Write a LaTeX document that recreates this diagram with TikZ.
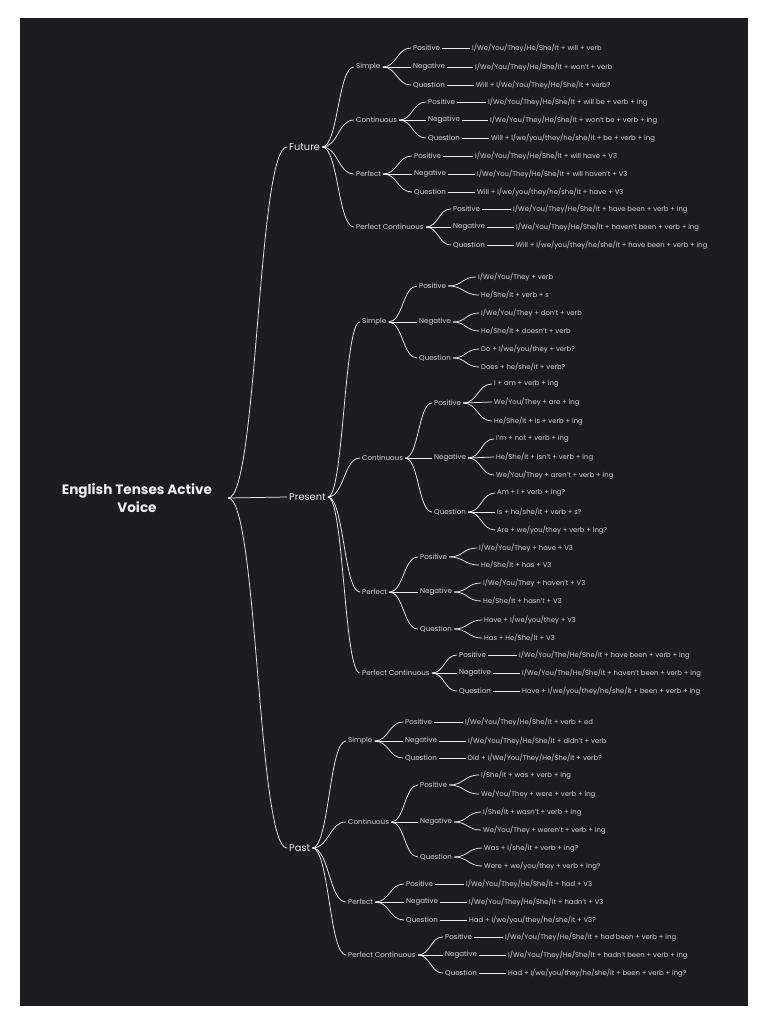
\documentclass[tikz,border=0pt]{standalone}
\usepackage{fontspec}
\setmainfont{Poppins}
\usetikzlibrary{calc}

\definecolor{boardbg}{HTML}{1D1C21}
\definecolor{inkwhite}{HTML}{EDEDED}
\definecolor{inkgrey}{HTML}{D4D4D4}

\tikzset{
  title/.style = {font=\bfseries\fontsize{13.6}{18}\selectfont, text=inkwhite,
    align=center, minimum width=182pt, inner sep=0pt},
  tense/.style = {anchor=west, inner sep=2pt, font=\fontsize{9.8}{11}\selectfont, text=inkwhite},
  form/.style = {anchor=west, inner sep=2pt, font=\fontsize{7.1}{8}\selectfont, text=inkgrey},
  kind/.style = {form},
  leaf/.style = {form, font=\fontsize{6.85}{8}\selectfont},
  link/.style = {draw=inkwhite, line width=.75pt,
    to path={.. controls ($(\tikztostart)!.5!(\tikztotarget|-\tikztostart)$)
      and ($(\tikztotarget)!.5!(\tikztostart|-\tikztotarget)$) .. (\tikztotarget)}}
}

\begin{document}
\begin{tikzpicture}[x=1pt, y=-1pt]

	\fill[white] (0,0) rectangle (768,1024);
	\fill[boardbg] (20,18) rectangle (748,1006);

	\node[title] (root) at (137,498) {English Tenses Active\\Voice};

	% tenses
	\node[tense] (fut) at (287,147) {Future};
	\node[tense] (pre) at (287,497) {Present};
	\node[tense] (pas) at (287,848) {Past};

	% future
	\node[form] (futS) at (354,67) {Simple};
	\node[kind] (futSpos) at (411,48) {Positive};
	\node[kind] (futSneg) at (411,67) {Negative};
	\node[kind] (futSque) at (411,85) {Question};
	\node[leaf] (futSpos-1) at (470,48) {I/We/You/They/He/She/It + will + verb};
	\node[leaf] (futSneg-1) at (473,67) {I/We/You/They/He/She/It + won't + verb};
	\node[leaf] (futSque-1) at (474,85) {Will + I/We/You/They/He/She/It + verb?};

	\node[form] (futC) at (354,120) {Continuous};
	\node[kind] (futCpos) at (426,102) {Positive};
	\node[kind] (futCneg) at (426,120) {Negative};
	\node[kind] (futCque) at (426,138) {Question};
	\node[leaf] (futCpos-1) at (486,102) {I/We/You/They/He/She/It + will be + verb + ing};
	\node[leaf] (futCneg-1) at (488,120) {I/We/You/They/He/She/It + won't be + verb + ing};
	\node[leaf] (futCque-1) at (489,138) {Will + I/we/you/they/he/she/it + be + verb + ing};

	\node[form] (futP) at (354,174) {Perfect};
	\node[kind] (futPpos) at (412,156) {Positive};
	\node[kind] (futPneg) at (412,174) {Negative};
	\node[kind] (futPque) at (412,192) {Question};
	\node[leaf] (futPpos-1) at (473,156) {I/We/You/They/He/She/It + will have + V3};
	\node[leaf] (futPneg-1) at (475,174) {I/We/You/They/He/She/It + will haven't + V3};
	\node[leaf] (futPque-1) at (475,192) {Will + I/we/you/they/he/she/it + have + V3};

	\node[form] (futPC) at (354,227) {Perfect Continuous};
	\node[kind] (futPCpos) at (451,209) {Positive};
	\node[kind] (futPCneg) at (451,227) {Negative};
	\node[kind] (futPCque) at (451,245) {Question};
	\node[leaf] (futPCpos-1) at (511,209) {I/We/You/They/He/She/It + have been + verb + ing};
	\node[leaf] (futPCneg-1) at (514,227) {I/We/You/They/He/She/It + haven't been + verb + ing};
	\node[leaf] (futPCque-1) at (514,245) {Will + I/we/you/they/he/she/it + have been + verb + ing};

	% present
	\node[form] (preS) at (360,322) {Simple};
	\node[kind] (preSpos) at (417,286) {Positive};
	\node[kind] (preSneg) at (417,322) {Negative};
	\node[kind] (preSque) at (417,358) {Question};
	\node[leaf] (preSpos-1) at (476,277) {I/We/You/They + verb};
	\node[leaf] (preSpos-2) at (479,295) {He/She/It + verb + s};
	\node[leaf] (preSneg-1) at (479,313) {I/We/You/They + don't + verb};
	\node[leaf] (preSneg-2) at (479,331) {He/She/It + doesn't + verb};
	\node[leaf] (preSque-1) at (479,349) {Do + I/we/you/they + verb?};
	\node[leaf] (preSque-2) at (479,367) {Does + he/she/it + verb?};

	\node[form] (preC) at (360,458) {Continuous};
	\node[kind] (preCpos) at (432,403) {Positive};
	\node[kind] (preCneg) at (432,458) {Negative};
	\node[kind] (preCque) at (432,512) {Question};
	\node[leaf] (preCpos-1) at (492,384) {I + am + verb + ing};
	\node[leaf] (preCpos-2) at (492,402) {We/You/They + are + ing};
	\node[leaf] (preCpos-3) at (492,421) {He/She/It + is + verb + ing};
	\node[leaf] (preCneg-1) at (494,439) {I'm + not + verb + ing};
	\node[leaf] (preCneg-2) at (494,457) {He/She/It + isn't + verb + ing};
	\node[leaf] (preCneg-3) at (494,475) {We/You/They + aren't + verb + ing};
	\node[leaf] (preCque-1) at (495,493) {Am + I + verb + ing?};
	\node[leaf] (preCque-2) at (495,512) {Is + he/she/it + verb + s?};
	\node[leaf] (preCque-3) at (495,530) {Are + we/you/they + verb + ing?};

	\node[form] (preP) at (360,592) {Perfect};
	\node[kind] (prePpos) at (418,557) {Positive};
	\node[kind] (prePneg) at (418,592) {Negative};
	\node[kind] (prePque) at (418,629) {Question};
	\node[leaf] (prePpos-1) at (477,548) {I/We/You/They + have + V3};
	\node[leaf] (prePpos-2) at (479,565) {He/She/It + has + V3};
	\node[leaf] (prePneg-1) at (481,583) {I/We/You/They + haven't + V3};
	\node[leaf] (prePneg-2) at (481,601) {He/She/It + hasn't + V3};
	\node[leaf] (prePque-1) at (482,620) {Have + I/we/you/they + V3};
	\node[leaf] (prePque-2) at (482,638) {Has + He/She/It + V3};

	\node[form] (prePC) at (360,673) {Perfect Continuous};
	\node[kind] (prePCpos) at (457,655) {Positive};
	\node[kind] (prePCneg) at (457,673) {Negative};
	\node[kind] (prePCque) at (457,691) {Question};
	\node[leaf] (prePCpos-1) at (517,655) {I/We/You/The/He/She/It + have been + verb + ing};
	\node[leaf] (prePCneg-1) at (520,673) {I/We/You/The/He/She/It + haven't been + verb + ing};
	\node[leaf] (prePCque-1) at (520,691) {Have + I/we/you/they/he/she/it + been + verb + ing};

	% past
	\node[form] (pasS) at (346,741) {Simple};
	\node[kind] (pasSpos) at (403,722) {Positive};
	\node[kind] (pasSneg) at (403,741) {Negative};
	\node[kind] (pasSque) at (403,758) {Question};
	\node[leaf] (pasSpos-1) at (463,722) {I/We/You/They/He/She/It + verb + ed};
	\node[leaf] (pasSneg-1) at (466,741) {I/We/You/They/He/She/It + didn't + verb};
	\node[leaf] (pasSque-1) at (466,758) {Did + I/We/You/They/He/She/It + verb?};

	\node[form] (pasC) at (346,822) {Continuous};
	\node[kind] (pasCpos) at (418,785) {Positive};
	\node[kind] (pasCneg) at (418,822) {Negative};
	\node[kind] (pasCque) at (418,857) {Question};
	\node[leaf] (pasCpos-1) at (479,775) {I/She/It + was + verb + ing};
	\node[leaf] (pasCpos-2) at (479,794) {We/You/They + were + verb + ing};
	\node[leaf] (pasCneg-1) at (481,812) {I/She/It + wasn't + verb + ing};
	\node[leaf] (pasCneg-2) at (481,830) {We/You/They + weren't + verb + ing};
	\node[leaf] (pasCque-1) at (482,848) {Was + I/she/it + verb + ing?};
	\node[leaf] (pasCque-2) at (482,866) {Were + we/you/they + verb + ing?};

	\node[form] (pasP) at (346,902) {Perfect};
	\node[kind] (pasPpos) at (404,884) {Positive};
	\node[kind] (pasPneg) at (404,902) {Negative};
	\node[kind] (pasPque) at (404,920) {Question};
	\node[leaf] (pasPpos-1) at (464,884) {I/We/You/They/He/She/It + had + V3};
	\node[leaf] (pasPneg-1) at (467,902) {I/We/You/They/He/She/It + hadn't + V3};
	\node[leaf] (pasPque-1) at (467,920) {Had + I/we/you/they/he/she/it + V3?};

	\node[form] (pasPC) at (346,955) {Perfect Continuous};
	\node[kind] (pasPCpos) at (443,937) {Positive};
	\node[kind] (pasPCneg) at (443,955) {Negative};
	\node[kind] (pasPCque) at (443,973) {Question};
	\node[leaf] (pasPCpos-1) at (503,937) {I/We/You/They/He/She/It + had been + verb + ing};
	\node[leaf] (pasPCneg-1) at (506,955) {I/We/You/They/He/She/It + hadn't been + verb + ing};
	\node[leaf] (pasPCque-1) at (506,973) {Had + I/we/you/they/he/she/it + been + verb + ing?};

	% branches
	\foreach \t in {fut,pre,pas} {
		\draw[link] (root.east) to (\t.west);
		\foreach \f in {S,C,P,PC} {
			\draw[link] (\t.east) to (\t\f.west);
			\foreach \k in {pos,neg,que}
				\draw[link] (\t\f.east) to (\t\f\k.west);
		}
	}
	\foreach \k/\n in {futSpos/1,futSneg/1,futSque/1,futCpos/1,futCneg/1,futCque/1,
		futPpos/1,futPneg/1,futPque/1,futPCpos/1,futPCneg/1,futPCque/1,
		preSpos/2,preSneg/2,preSque/2,preCpos/3,preCneg/3,preCque/3,
		prePpos/2,prePneg/2,prePque/2,prePCpos/1,prePCneg/1,prePCque/1,
		pasSpos/1,pasSneg/1,pasSque/1,pasCpos/2,pasCneg/2,pasCque/2,
		pasPpos/1,pasPneg/1,pasPque/1,pasPCpos/1,pasPCneg/1,pasPCque/1}
		\foreach \i in {1,...,\n}
			\draw[link] (\k.east) to (\k-\i.west);

\end{tikzpicture}
\end{document}
